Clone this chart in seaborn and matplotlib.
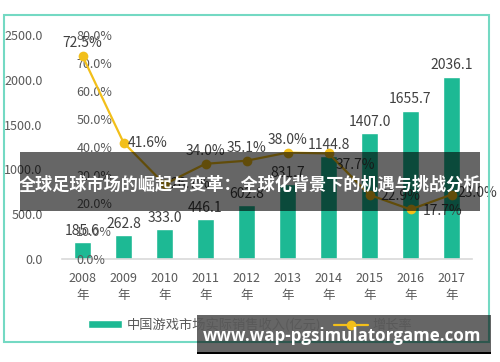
import numpy as np
import pandas as pd
import matplotlib
matplotlib.use("Agg")
import matplotlib.pyplot as plt
import seaborn as sns
from matplotlib.patches import Rectangle
from matplotlib.ticker import FuncFormatter

# data
years = ["2008", "2009", "2010", "2011", "2012", "2013", "2014", "2015", "2016", "2017"]
revenue = [185.6, 262.8, 333.0, 446.1, 602.8, 831.7, 1144.8, 1407.0, 1655.7, 2036.1]
growth = [72.5, 41.6, 26.7, 34.0, 35.1, 38.0, 37.7, 22.9, 17.7, 23.0]
bar_name = "中国游戏市场实际销售收入(亿元)"
line_name = "增长率"
title_text = "全球足球市场的崛起与变革：全球化背景下的机遇与挑战分析"
watermark = "www.wap-pgsimulatorgame.com"

sns.set_style("white")
plt.rcParams["font.family"] = ["Noto Sans CJK SC", "DejaVu Sans"]

bar_color = "#1DB994"
line_color = "#F2BF1A"
tick_color = "#595959"
label_color = "#404040"

W, H = 500, 362
fig = plt.figure(figsize=(W / 100, H / 100), dpi=100)

def px(x0, y0, x1, y1):
    return [x0 / W, 1 - y1 / H, (x1 - x0) / W, (y1 - y0) / H]

ax = fig.add_axes(px(62, 35, 472, 259))
df = pd.DataFrame({"year": years, "revenue": revenue, "growth": growth})
sns.barplot(data=df, x="year", y="revenue", color=bar_color, width=0.43,
            saturation=1, ax=ax, label=bar_name)
if ax.get_legend() is not None:
    ax.get_legend().remove()
ax.set_xlim(-0.5, len(years) - 0.5)
ax.set_ylim(0, 2500)
ax.set_yticks(np.arange(0, 2501, 500))
ax.yaxis.set_major_formatter(FuncFormatter(lambda v, p: f"{v:.1f}"))
ax.set_xticks(range(len(years)))
ax.set_xticklabels([y + "\n年" for y in years], linespacing=1.5)
ax.tick_params(axis="both", length=0, labelsize=9, labelcolor=tick_color)
ax.tick_params(axis="y", pad=14)
ax.tick_params(axis="x", pad=9)
ax.set_xlabel("")
ax.set_ylabel("")
for s in ["top", "right", "left"]:
    ax.spines[s].set_visible(False)
ax.spines["bottom"].set_color("#D9D9D9")
ax.spines["bottom"].set_linewidth(1.2)
for i, v in enumerate(revenue):
    ax.annotate(f"{v:.1f}", (i, v), xytext=(0, 3), textcoords="offset points",
                ha="center", va="bottom", fontsize=10, color=label_color)

ax2 = ax.twinx()
sns.lineplot(x=np.arange(len(years)), y=growth, ax=ax2, color=line_color,
             linewidth=1.6, marker="o", markersize=7, markeredgewidth=0,
             label=line_name, legend=False)
ax2.set_ylim(0, 80)
ax2.set_yticks(np.arange(0, 81, 10))
ax2.yaxis.set_major_formatter(FuncFormatter(lambda v, p: f"{v:.1f}%"))
ax2.spines["right"].set_position(("axes", 13 / 410))
for s in ax2.spines.values():
    s.set_visible(False)
ax2.tick_params(axis="y", length=0, pad=1, labelsize=9, labelcolor=tick_color)
ax2.grid(False)

# label placement per point: (dx, dy, ha, va) in points
offsets = [(0, 4, "center", "bottom"), (3, 0, "left", "center"),
           (4, 0, "left", "center"), (0, 4, "center", "bottom"),
           (0, 4, "center", "bottom"), (0, 4, "center", "bottom"),
           (5, -3, "left", "top"), (8, -1, "left", "center"),
           (9, -1, "left", "center"), (4, 1, "left", "center")]
for i, (v, (dx, dy, ha, va)) in enumerate(zip(growth, offsets)):
    ax2.annotate(f"{v:.1f}%", (i, v), xytext=(dx, dy), textcoords="offset points",
                 ha=ha, va=va, fontsize=10, color=label_color)

# legend
h1 = [p for p in ax.patches][:1]
h2, l2 = ax2.get_legend_handles_labels()
fig.legend(h1 + h2, [bar_name] + l2, loc="center", bbox_to_anchor=(0.5, 1 - 325 / H),
           ncol=2, frameon=False, fontsize=9.5, labelcolor=tick_color,
           handlelength=2.6, handleheight=0.55, handletextpad=0.3,
           columnspacing=1.0)

# teal frame around chart
fig.patches.append(Rectangle((4 / W, 1 - 342 / H), 485 / W, 327 / H,
                             transform=fig.transFigure, fill=False,
                             edgecolor="#74D9C3", linewidth=1.5))

# overlay banner
fig.patches.append(Rectangle((20 / W, 1 - 211 / H), 460 / W, 59 / H,
                             transform=fig.transFigure, facecolor="black",
                             alpha=0.6, edgecolor="none", zorder=5))
fig.text(250 / W, 1 - 185 / H, title_text, ha="center", va="center",
         fontsize=12.3, fontweight="bold", color="white", zorder=6)

# watermark
fig.patches.append(Rectangle((197 / W, 1 - 352 / H), 294 / W, 37 / H,
                             transform=fig.transFigure, facecolor="black",
                             alpha=0.6, edgecolor="none", zorder=5))
fig.patches.append(Rectangle((197 / W, 1 - 354 / H), 294 / W, 2.5 / H,
                             transform=fig.transFigure, facecolor="black",
                             edgecolor="none", zorder=5))
fig.text(342 / W, 1 - 336 / H, watermark, ha="center", va="center",
         fontsize=12.2, fontweight="bold", color="white", zorder=6,
         family=["Open Sans", "DejaVu Sans"])

fig.savefig("out.png", dpi=100)
